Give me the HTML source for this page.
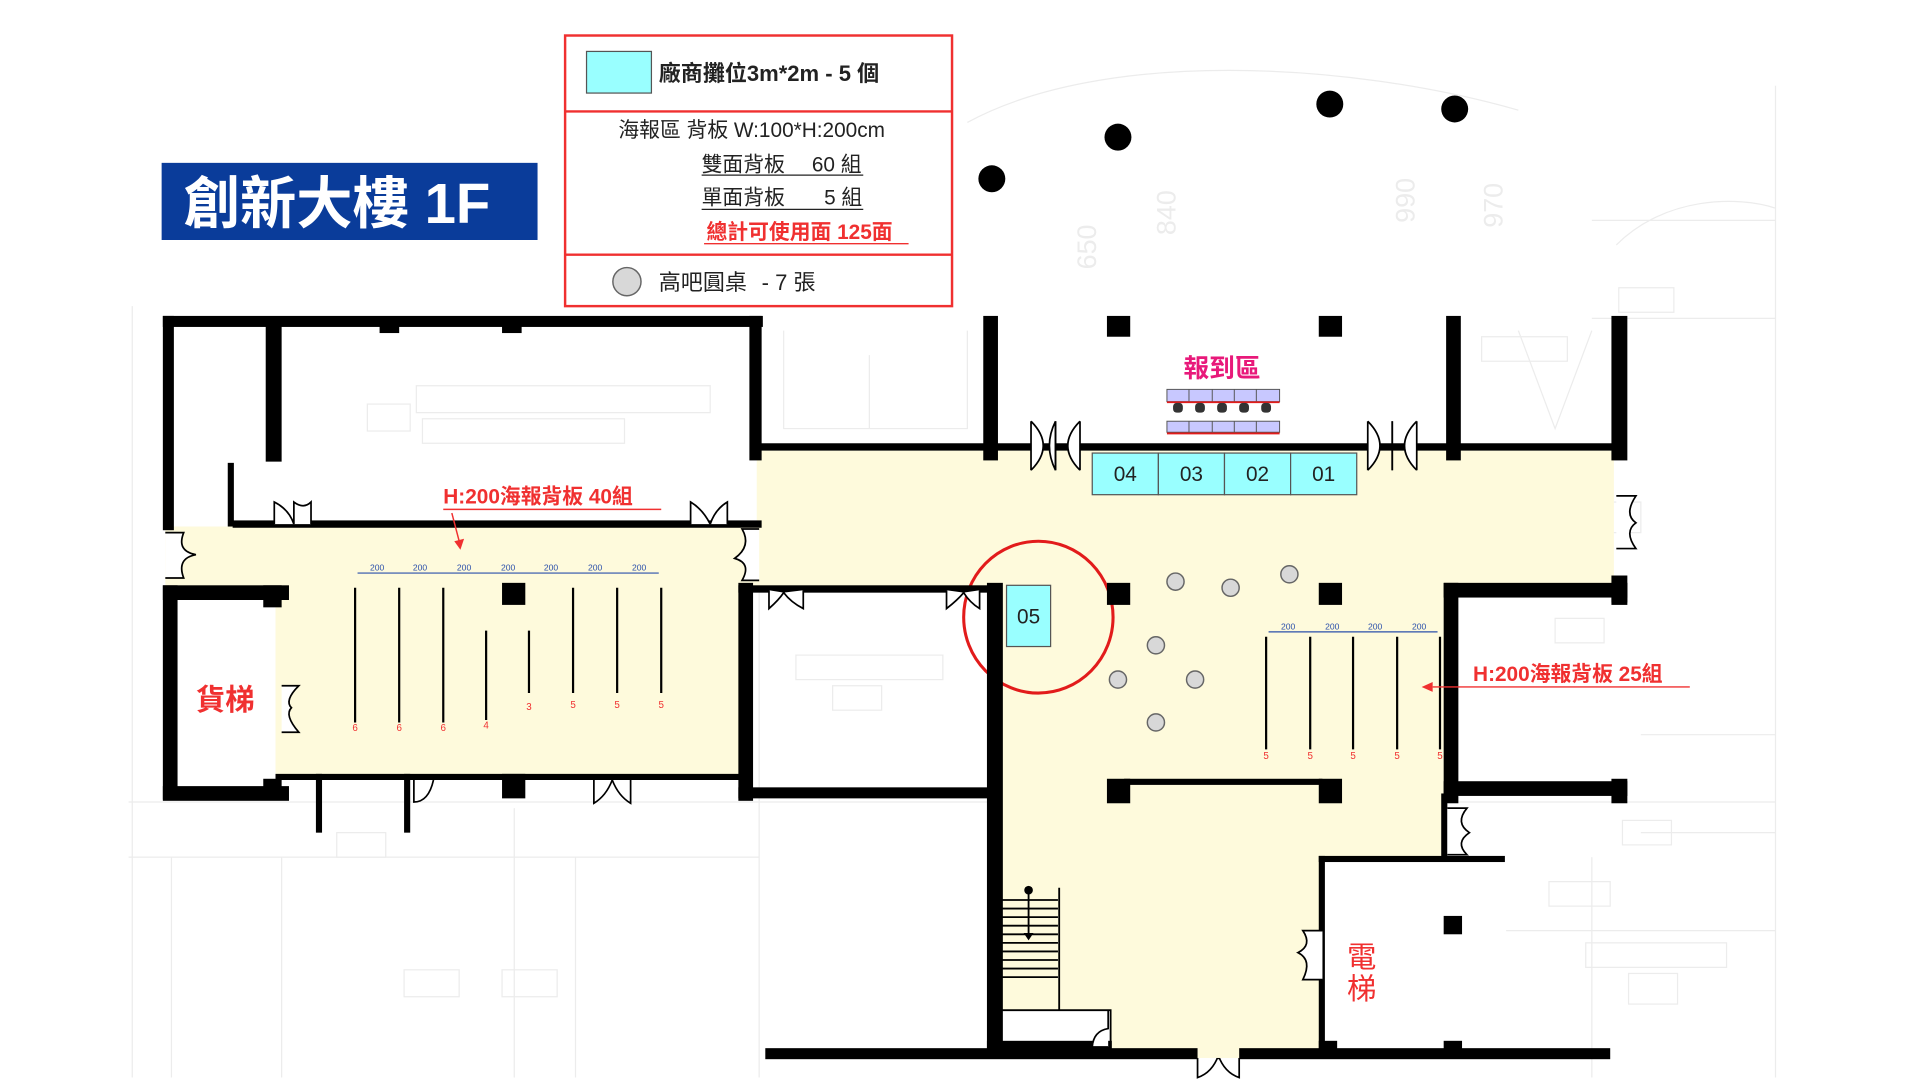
<!DOCTYPE html>
<html><head><meta charset="utf-8"><style>
html,body{margin:0;padding:0;background:#fff;width:1920px;height:1080px;overflow:hidden}
svg{display:block}
text{font-family:"Liberation Sans","Noto Sans CJK TC",sans-serif}
</style></head><body>
<svg width="1920" height="1080" viewBox="0 0 1568 882" preserveAspectRatio="none" xmlns="http://www.w3.org/2000/svg">
<!-- faint blueprint background -->
<g stroke="#ececec" stroke-width="1" fill="none">
<path d="M108 250V880M1450 70V880M105 655H1450M105 700H620M620 430V880M790 100C900 40 1100 50 1240 90M1300 180H1450M1300 260H1450M640 270V350H790V270M710 290V350M1240 270L1270 350L1300 270M1340 600H1450M1340 680H1450M1230 760H1450M1300 700V880M140 700V880M230 700V880M420 660V880M470 700V880M1320 200C1360 160 1420 160 1450 170"/>
<rect x="1300" y="410" width="40" height="25"/><rect x="1270" y="505" width="40" height="20"/><rect x="650" y="535" width="120" height="20"/><rect x="680" y="560" width="40" height="20"/>
<rect x="1325" y="670" width="40" height="20"/><rect x="1295" y="770" width="115" height="20"/><rect x="1330" y="795" width="40" height="25"/>
<rect x="340" y="315" width="240" height="22"/><rect x="345" y="342" width="165" height="20"/><rect x="300" y="330" width="35" height="22"/>
<rect x="330" y="792" width="45" height="22"/><rect x="410" y="792" width="45" height="22"/><rect x="275" y="680" width="40" height="20"/>
<rect x="1322" y="235" width="45" height="20"/><rect x="1265" y="720" width="50" height="20"/><rect x="1210" y="275" width="70" height="20"/>
</g>
<g fill="#ececec" font-size="22"><text x="870" y="225" transform="rotate(-90 880 210)">650</text><text x="948" y="190" transform="rotate(-90 955 185)">840</text><text x="1148" y="175" transform="rotate(-90 1155 175)">990</text><text x="1216" y="185" transform="rotate(-90 1222 180)">970</text></g>

<!-- title -->
<rect x="132" y="133" width="307" height="63" fill="#0a3c9a"/>
<text x="150" y="182" font-size="46" font-weight="bold" fill="#fff">創新大樓 1F</text>

<!-- legend -->
<rect x="461.5" y="29" width="316" height="221" fill="#fff" stroke="#f03030" stroke-width="2"/>
<line x1="461" y1="91" x2="778" y2="91" stroke="#f03030" stroke-width="2"/>
<line x1="461" y1="208" x2="778" y2="208" stroke="#f03030" stroke-width="2"/>
<rect x="479" y="42" width="53" height="34" fill="#99ffff" stroke="#555" stroke-width="1"/>
<text x="538" y="66" font-size="18" fill="#222" font-weight="bold">廠商攤位3m*2m  - 5 個</text>
<text x="505" y="112" font-size="17" fill="#222">海報區 背板 W:100*H:200cm</text>
<text x="573" y="140" font-size="17" fill="#222">雙面背板</text><text x="663" y="140" font-size="17" fill="#222">60 組</text>
<line x1="573" y1="143" x2="705" y2="143" stroke="#222" stroke-width="1"/>
<text x="573" y="167" font-size="17" fill="#222">單面背板</text><text x="673" y="167" font-size="17" fill="#222">5 組</text>
<line x1="573" y1="171" x2="705" y2="171" stroke="#222" stroke-width="1"/>
<text x="577" y="195" font-size="17" fill="#f03030" font-weight="bold">總計可使用面 125面</text>
<line x1="575" y1="199" x2="742" y2="199" stroke="#f03030" stroke-width="1.2"/>
<circle cx="512" cy="230" r="11.5" fill="#d8d8d8" stroke="#666" stroke-width="1.2"/>
<text x="538" y="237" font-size="18" fill="#222">高吧圓桌</text><text x="622" y="237" font-size="18" fill="#222">- 7 張</text>

<!-- outdoor dots -->
<g fill="#000"><circle cx="810" cy="146" r="11"/><circle cx="913" cy="112" r="11"/><circle cx="1086" cy="85" r="11"/><circle cx="1188" cy="89" r="11"/></g>

<!-- cream floor -->
<g fill="#fefadc">
<rect x="135" y="430" width="485" height="50"/>
<rect x="225" y="478" width="383" height="158"/>
<rect x="618" y="368" width="700" height="112"/>
<rect x="815" y="478" width="366" height="224"/>
<rect x="815" y="700" width="266" height="162"/>
</g>
<rect x="815" y="825" width="92" height="37" fill="#fff"/>

<!-- booths -->
<g stroke="#555" stroke-width="1" fill="#99ffff">
<rect x="892" y="370" width="54" height="34"/><rect x="946" y="370" width="54" height="34"/><rect x="1000" y="370" width="54" height="34"/><rect x="1054" y="370" width="54" height="34"/>
<rect x="822" y="478" width="36" height="50"/>
</g>
<g font-size="17" fill="#222" text-anchor="middle"><text x="919" y="393">04</text><text x="973" y="393">03</text><text x="1027" y="393">02</text><text x="1081" y="393">01</text><text x="840" y="509">05</text></g>
<ellipse cx="848" cy="504" rx="61" ry="62" fill="none" stroke="#e21b1b" stroke-width="2.5"/>

<!-- walls -->
<g fill="#000">
<rect x="133" y="258" width="490" height="9"/>
<rect x="133" y="258" width="9" height="175"/>
<rect x="612" y="258" width="10" height="118"/>
<rect x="217" y="262" width="13" height="115"/>
<rect x="310" y="262" width="16" height="10"/><rect x="410" y="262" width="16" height="10"/>
<rect x="186" y="378" width="5" height="52"/>
<rect x="190" y="425" width="432" height="6"/>
<rect x="133" y="478" width="103" height="12"/>
<rect x="133" y="478" width="12" height="175"/>
<rect x="133" y="642" width="103" height="12"/>
<rect x="215" y="478" width="15" height="18"/>
<rect x="215" y="636" width="15" height="16"/>
<rect x="225" y="632" width="385" height="5"/>
<rect x="410" y="476" width="19" height="18"/>
<rect x="410" y="632" width="19" height="20"/>
<rect x="258" y="632" width="5" height="48"/><rect x="330" y="632" width="5" height="48"/>
<rect x="603" y="476" width="12" height="178"/>
<rect x="603" y="643" width="215" height="9"/>
<rect x="603" y="478" width="215" height="6"/>
<rect x="806" y="476" width="13" height="386"/>
<rect x="618" y="362" width="195" height="6"/>
<rect x="803" y="258" width="12" height="118"/>
<rect x="810" y="362" width="380" height="6"/>
<rect x="1181" y="258" width="12" height="118"/>
<rect x="1316" y="258" width="13" height="118"/>
<rect x="1188" y="362" width="132" height="6"/>
<rect x="904" y="258" width="19" height="17"/><rect x="1077" y="258" width="19" height="17"/>
<rect x="904" y="476" width="19" height="18"/><rect x="1077" y="476" width="19" height="18"/>
<rect x="1316" y="470" width="13" height="24"/>
<rect x="1179" y="476" width="150" height="12"/>
<rect x="1179" y="476" width="12" height="180"/>
<rect x="1179" y="638" width="150" height="12"/>
<rect x="1316" y="476" width="13" height="16"/><rect x="1316" y="636" width="13" height="20"/>
<rect x="904" y="636" width="19" height="20"/><rect x="1077" y="636" width="19" height="20"/>
<rect x="918" y="636" width="162" height="5"/>
<rect x="1177" y="648" width="5" height="52"/>
<rect x="1077" y="699" width="152" height="5"/>
<rect x="1077" y="699" width="5" height="163"/>
<rect x="1179" y="748" width="15" height="15"/>
<rect x="625" y="856" width="690" height="9"/>
<rect x="1077" y="850" width="15" height="10"/><rect x="1179" y="850" width="15" height="10"/>
<rect x="806" y="850" width="102" height="10"/>
</g>
<!-- small room + stairs -->
<g stroke="#000" stroke-width="1.5" fill="none">
<path d="M818 825H907V858M865 725V825"/>
<path d="M818 735H864M818 742H864M818 749H864M818 756H864M818 763H864M818 770H864M818 777H864M818 784H864M818 791H864M818 798H864"/>
<path d="M840 728V765"/>
</g>
<circle cx="840" cy="727" r="3.5" fill="#000"/><path d="M836 762L840 768L844 762Z" fill="#000"/>

<!-- doors -->
<g stroke="#000" stroke-width="1.4" fill="#fff">
<path d="M842 344V384M862 344V384M842 344Q862 364 842 384M862 384Q852 364 862 344"/>
<path d="M862 344V384M882 344V384M882 344Q862 364 882 384"/>
<path d="M1117 344V384M1137 344V384M1117 344Q1137 364 1117 384"/>
<path d="M1137 344V384M1157 344V384M1157 344Q1137 364 1157 384"/>
<path d="M224 428V410Q236 416 240 428M240 428V410Q248 416 254 410V428"/>
<path d="M564 428V410Q574 416 580 428M580 428Q584 416 594 410V428"/>
<path d="M135 435H150Q144 450 160 453Q144 456 150 472H135"/>
<path d="M620 432H606Q614 446 600 456Q614 460 606 474H620"/>
<path d="M230 560H244Q232 572 238 578Q232 584 244 598H230"/>
<path d="M1320 405H1336Q1326 420 1336 427Q1326 434 1336 448H1320"/>
<path d="M1182 660H1198Q1188 672 1200 680Q1188 688 1198 698H1182"/>
<path d="M1080 760H1064Q1072 772 1060 778Q1072 784 1064 800H1080"/>
<path d="M338 637V655Q350 655 354 637"/>
<path d="M485 637V656Q495 650 500 637M500 637Q505 650 515 656V637"/>
<path d="M628 482V497Q636 490 640 484M640 484Q646 492 656 497V482"/>
<path d="M773 482V497Q782 490 787 484M787 484Q792 492 800 497V482"/>
<path d="M905 825V840Q893 842 892 855H905"/>
<path d="M978 860V880Q990 876 995 862M995 862Q1000 876 1012 880V860"/>
</g>
<rect x="978" y="855" width="34" height="9" fill="#fefadc"/>

<!-- check-in desk -->
<text x="998" y="308" font-size="21" font-weight="bold" fill="#e8197a" text-anchor="middle">報到區</text>
<g stroke="#555" stroke-width="0.8" fill="#c8c8ff">
<rect x="953" y="318" width="92" height="10"/><rect x="953" y="344" width="92" height="9"/>
<path d="M971 318V328M990 318V328M1008 318V328M1026 318V328M971 344V353M990 344V353M1008 344V353M1026 344V353"/>
</g>
<path d="M953 328.5H1045M953 354H1045" stroke="#e21b1b" stroke-width="1.5"/>
<g fill="#333"><rect x="958" y="329" width="8" height="8" rx="3"/><rect x="976" y="329" width="8" height="8" rx="3"/><rect x="994" y="329" width="8" height="8" rx="3"/><rect x="1012" y="329" width="8" height="8" rx="3"/><rect x="1030" y="329" width="8" height="8" rx="3"/></g>

<!-- tables -->
<g fill="#d8d8d8" stroke="#666" stroke-width="1.2">
<circle cx="960" cy="475" r="7"/><circle cx="1005" cy="480" r="7"/><circle cx="1053" cy="469" r="7"/>
<circle cx="944" cy="527" r="7"/><circle cx="913" cy="555" r="7"/><circle cx="976" cy="555" r="7"/><circle cx="944" cy="590" r="7"/>
</g>

<!-- left poster boards -->
<g stroke="#000" stroke-width="1.8">
<path d="M290 480V590M326 480V590M362 480V590M397 515V588M432 515V566M468 480V566M504 480V566M540 480V566"/>
</g>
<g stroke="#2a4faa" stroke-width="1" fill="none"><path d="M292 468H538"/></g>
<g font-size="7" fill="#2a4faa" text-anchor="middle"><text x="308" y="466">200</text><text x="343" y="466">200</text><text x="379" y="466">200</text><text x="415" y="466">200</text><text x="450" y="466">200</text><text x="486" y="466">200</text><text x="522" y="466">200</text></g>
<g font-size="8" fill="#f03030" text-anchor="middle"><text x="290" y="597">6</text><text x="326" y="597">6</text><text x="362" y="597">6</text><text x="397" y="595">4</text><text x="432" y="580">3</text><text x="468" y="578">5</text><text x="504" y="578">5</text><text x="540" y="578">5</text></g>
<text x="362" y="411" font-size="17" font-weight="bold" fill="#f03030">H:200海報背板 40組</text>
<line x1="362" y1="416" x2="540" y2="416" stroke="#f03030" stroke-width="1.2"/>
<path d="M369 419L375 442" stroke="#f03030" stroke-width="1.2"/><path d="M371 442L376 449L379 440Z" fill="#f03030"/>

<!-- right poster boards -->
<g stroke="#000" stroke-width="1.8">
<path d="M1034 520V612M1070 520V612M1105 520V612M1141 520V612M1176 520V612"/>
</g>
<path d="M1036 516H1174" stroke="#2a4faa" stroke-width="1"/>
<g font-size="7" fill="#2a4faa" text-anchor="middle"><text x="1052" y="514">200</text><text x="1088" y="514">200</text><text x="1123" y="514">200</text><text x="1159" y="514">200</text></g>
<g font-size="8" fill="#f03030" text-anchor="middle"><text x="1034" y="620">5</text><text x="1070" y="620">5</text><text x="1105" y="620">5</text><text x="1141" y="620">5</text><text x="1176" y="620">5</text></g>
<text x="1203" y="556" font-size="17" font-weight="bold" fill="#f03030">H:200海報背板 25組</text>
<line x1="1170" y1="561" x2="1380" y2="561" stroke="#f03030" stroke-width="1.2"/>
<path d="M1170 557L1161 561L1170 565Z" fill="#f03030"/>

<!-- elevator labels -->
<text x="160" y="580" font-size="24" font-weight="bold" fill="#f03030">貨梯</text>
<text x="1100" y="790" font-size="24" fill="#f03030">電</text>
<text x="1100" y="816" font-size="24" fill="#f03030">梯</text>
</svg>
</body></html>
